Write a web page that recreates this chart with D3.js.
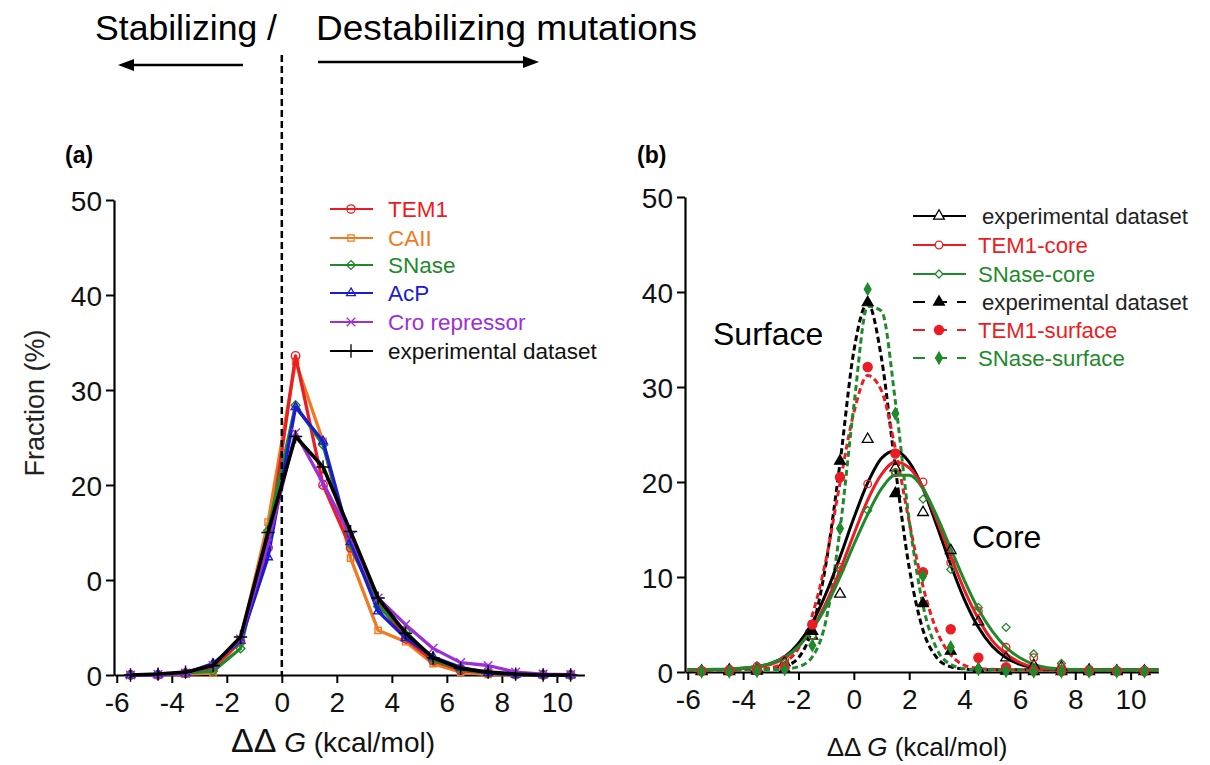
<!DOCTYPE html>
<html>
<head>
<meta charset="utf-8">
<script src="https://cdn.jsdelivr.net/npm/d3@7"></script>
<style>
  body { margin: 0; background: #fff; }
  svg { font-family: "Liberation Sans", Arial, Helvetica, sans-serif; }
</style>
</head>
<body>
<svg id="chart" width="1210" height="765"></svg>
<script>
// bin centres (kcal/mol) shared by both panels
const bins = [-5.5, -4.5, -3.5, -2.5, -1.5, -0.5, 0.5, 1.5, 2.5, 3.5, 4.5, 5.5, 6.5, 7.5, 8.5, 9.5, 10.5];

// panel (a): fraction (%) per bin
const aTEM1  = [0, 0, 0.2, 0.8, 3.5, 13.4, 33.6, 20.0, 13.4, 7.6, 3.8, 1.5, 0.5, 0.2, 0.05, 0, 0];
const aCAII  = [0, 0, 0.1, 0.2, 3.7, 16.1, 33.0, 24.6, 12.3, 4.7, 3.5, 1.2, 0.3, 0.05, 0, 0, 0];
const aSNase = [0, 0.05, 0.2, 0.4, 2.8, 15.2, 28.4, 24.2, 13.7, 7.2, 4.6, 1.6, 0.6, 0.2, 0.05, 0, 0];
const aAcP   = [0, 0.05, 0.2, 1.2, 3.6, 12.4, 28.2, 24.6, 14.0, 6.7, 3.9, 1.9, 0.8, 0.2, 0.05, 0, 0];
const aCro   = [0, 0.05, 0.2, 1.0, 3.8, 13.9, 25.5, 20.2, 14.6, 8.1, 5.3, 2.8, 1.3, 1.0, 0.3, 0.1, 0.05];
const aExp   = [0, 0.1, 0.3, 1.0, 4.0, 15.0, 25.1, 21.9, 15.1, 8.1, 4.4, 1.8, 0.7, 0.3, 0.1, 0, 0];

// panel (b): measured points per bin
const bExpCore   = [0.1, 0.2, 0.4, 1.0, 3.8, 8.2, 24.5, 21.5, 16.8, 12.8, 5.3, 1.5, 0.7, 0.5, 0.2, 0.1, 0.1];
const bTEM1Core  = [0.1, 0.3, 0.6, 1.3, 3.8, 11.0, 19.8, 21.0, 20.0, 11.5, 6.4, 2.6, 1.5, 0.5, 0.3, 0.1, 0.1];
const bSNaseCore = [0.1, 0.2, 0.5, 1.0, 3.8, 10.7, 17.0, 21.0, 18.2, 10.8, 6.8, 4.7, 1.9, 0.9, 0.3, 0.1, 0.1];
const bExpSurf   = [0.05, 0.05, 0.1, 0.3, 4.3, 22.2, 38.9, 18.8, 7.2, 2.2, 0.3, 0.1, 0.05, 0.05, 0.05, 0.05, 0.05];
const bTEM1Surf  = [0.1, 0.1, 0.2, 0.5, 5.0, 20.5, 32.1, 23.0, 10.5, 4.5, 1.5, 0.5, 0.2, 0.1, 0.1, 0.1, 0.1];
const bSNaseSurf = [0.05, 0.05, 0.1, 0.3, 2.8, 15.1, 40.3, 27.2, 10.1, 2.6, 0.3, 0.1, 0.05, 0.05, 0.05, 0.05, 0.05];

// panel (b): fitted curves, every 0.5 kcal/mol
const fitX = [-6, -5.5, -5, -4.5, -4, -3.5, -3, -2.5, -2, -1.5, -1, -0.5, 0, 0.5, 1, 1.5, 2, 2.5, 3, 3.5,
              4, 4.5, 5, 5.5, 6, 6.5, 7, 7.5, 8, 8.5, 9, 9.5, 10, 10.5, 11];
const fitExpCore   = [0.25, 0.25, 0.27, 0.3, 0.4, 0.55, 0.9, 1.6, 3.0, 5.2, 8.3, 12.1, 16.2, 19.9, 22.5, 23.3, 22.1, 19.3, 15.4, 11.3,
                      7.6, 4.7, 2.7, 1.5, 0.8, 0.45, 0.3, 0.25, 0.25, 0.25, 0.25, 0.25, 0.25, 0.25, 0.25];
const fitTEM1Core  = [0.25, 0.25, 0.27, 0.3, 0.38, 0.5, 0.8, 1.45, 2.65, 4.6, 7.3, 10.7, 14.5, 18.1, 20.8, 22.1, 21.5, 19.4, 16.0, 12.2,
                      8.6, 5.6, 3.3, 1.9, 1.0, 0.5, 0.32, 0.27, 0.25, 0.25, 0.25, 0.25, 0.25, 0.25, 0.25];
const fitSNaseCore = [0.25, 0.26, 0.28, 0.32, 0.42, 0.6, 0.9, 1.55, 2.7, 4.5, 6.9, 10.0, 13.4, 16.6, 19.3, 20.7, 20.7, 19.3, 16.4, 13.0,
                      9.6, 6.6, 4.3, 2.6, 1.5, 0.8, 0.45, 0.32, 0.27, 0.25, 0.25, 0.25, 0.25, 0.25, 0.25];
const fitExpSurf   = [0.25, 0.25, 0.25, 0.25, 0.25, 0.27, 0.35, 0.6, 1.5, 4.6, 11.5, 22.0, 33.8, 38.8, 33.0, 21.5, 11.0, 4.4, 1.5, 0.55,
                      0.32, 0.25, 0.25, 0.25, 0.25, 0.25, 0.25, 0.25, 0.25, 0.25, 0.25, 0.25, 0.25, 0.25, 0.25];
const fitTEM1Surf  = [0.25, 0.25, 0.25, 0.25, 0.25, 0.3, 0.45, 1.0, 2.5, 6.0, 11.9, 19.9, 27.3, 31.2, 29.6, 23.5, 15.8, 9.0, 4.3, 1.8,
                      0.7, 0.38, 0.28, 0.25, 0.25, 0.25, 0.25, 0.25, 0.25, 0.25, 0.25, 0.25, 0.25, 0.25, 0.25];
const fitSNaseSurf = [0.25, 0.25, 0.25, 0.25, 0.25, 0.25, 0.25, 0.3, 0.55, 1.6, 5.5, 15.0, 28.0, 38.5, 38.0, 28.5, 16.0, 7.0, 2.4, 0.8,
                      0.35, 0.26, 0.25, 0.25, 0.25, 0.25, 0.25, 0.25, 0.25, 0.25, 0.25, 0.25, 0.25, 0.25, 0.25];

// ticks
const xTicks = [-6, -4, -2, 0, 2, 4, 6, 8, 10];
const yTicks = [0, 10, 20, 30, 40, 50];
const yTickLabelsA = ["0", "0", "20", "30", "40", "50"];   // the "1" of 10 is cut off in panel (a)
const yTickLabelsB = ["0", "10", "20", "30", "40", "50"];

const RED = "#ec1c24", ORANGE = "#f07a22", GREEN = "#1f8a2c", BLUE = "#1b1bd0", PURPLE = "#9b30d8";

const svg = d3.select("#chart");

// ---------- header: stabilizing / destabilizing ----------
svg.append("text").attr("x", 95).attr("y", 40).attr("font-size", 35)
    .attr("textLength", 182).attr("lengthAdjust", "spacingAndGlyphs").text("Stabilizing /");
svg.append("text").attr("x", 316).attr("y", 40).attr("font-size", 35)
    .attr("textLength", 381).attr("lengthAdjust", "spacingAndGlyphs").text("Destabilizing mutations");

function arrow(x1, x2, y) {
    let dir = Math.sign(x2 - x1);
    svg.append("line").attr("x1", x1).attr("x2", x2 - dir * 12).attr("y1", y).attr("y2", y)
        .attr("stroke", "#000").attr("stroke-width", 2.5);
    svg.append("path")
        .attr("d", `M${x2},${y} L${x2 - dir * 16},${y - 6} L${x2 - dir * 16},${y + 6} Z`)
        .attr("fill", "#000");
}
arrow(243, 118, 65);
arrow(318, 539, 62);

// ---------- generic panel ----------
function panel(opts) {
    let x = d3.scaleLinear().domain([-6.1, 11]).range(opts.xRange);
    let y = d3.scaleLinear().domain([0, 50]).range(opts.yRange);
    let g = svg.append("g");

    let xAxis = g.append("g")
        .attr("transform", "translate(0," + opts.yRange[0] + ")")
        .call(d3.axisBottom(x).tickValues(xTicks).tickFormat(d3.format("d")).tickSize(8).tickSizeOuter(0).tickPadding(6));
    let yAxis = g.append("g")
        .attr("transform", "translate(" + opts.xRange[0] + ",0)")
        .call(d3.axisLeft(y).tickValues(yTicks).tickFormat((d, i) => opts.yLabels[i]).tickSize(8).tickSizeOuter(0).tickPadding(4));

    [xAxis, yAxis].forEach(a => {
        a.select(".domain").attr("stroke-width", 2.2);
        a.selectAll(".tick line").attr("stroke-width", 2);
        a.selectAll("text").attr("font-size", 28).attr("font-family", "Liberation Sans, Arial, sans-serif").attr("fill", "#111");
    });
    xAxis.selectAll("text").attr("dy", "0.82em").text(d => d < 0 ? "-" + Math.abs(d) : d);
    yAxis.selectAll("text").attr("dy", "0.36em");
    return {x, y, g};
}

function drawMarkers(g, x, y, values, symbolType, size, color, filled, sw) {
    g.append("g").selectAll("path")
        .data(values.map((v, i) => [bins[i], v]))
        .enter().append("path")
        .attr("transform", d => "translate(" + x(d[0]) + "," + y(d[1]) + ")")
        .attr("d", d3.symbol().type(symbolType).size(size))
        .attr("fill", filled ? color : "none")
        .attr("stroke", color)
        .attr("stroke-width", sw || 1.2);
}

// ---------- panel (a) ----------
const A = panel({xRange: [114, 584.4], yRange: [675, 200], yLabels: yTickLabelsA});

const seriesA = [
    {name: "CAII",             values: aCAII,  color: ORANGE, text: ORANGE,    symbol: d3.symbolSquare2,   size: 50},
    {name: "TEM1",             values: aTEM1,  color: RED,    text: RED,       symbol: d3.symbolCircle,    size: 55},
    {name: "SNase",            values: aSNase, color: GREEN,  text: GREEN,     symbol: d3.symbolDiamond2,  size: 50},
    {name: "AcP",              values: aAcP,   color: BLUE,   text: BLUE,      symbol: d3.symbolTriangle2, size: 55},
    {name: "Cro repressor",    values: aCro,   color: PURPLE, text: PURPLE,    symbol: d3.symbolTimes,     size: 50},
    {name: "experimental dataset", values: aExp, color: "#000", text: "#111", symbol: d3.symbolPlus,      size: 60}
];

let lineA = d3.line().x((d, i) => A.x(bins[i])).y(d => A.y(d));
seriesA.forEach(s => {
    A.g.append("path").datum(s.values)
        .attr("d", lineA).attr("fill", "none")
        .attr("stroke", s.color).attr("stroke-width", s.name === "experimental dataset" ? 3.6 : 3.3)
        .attr("stroke-linejoin", "round");
    drawMarkers(A.g, A.x, A.y, s.values, s.symbol, s.size, s.color, false, 1.4);
});

// legend (a)
const legendOrderA = ["TEM1", "CAII", "SNase", "AcP", "Cro repressor", "experimental dataset"];
const legendYA = [209, 238, 265, 293, 322, 351];
legendOrderA.forEach((name, i) => {
    let s = seriesA.find(d => d.name === name);
    let ly = legendYA[i];
    svg.append("line").attr("x1", 330).attr("x2", 373).attr("y1", ly).attr("y2", ly)
        .attr("stroke", s.color).attr("stroke-width", 2);
    svg.append("path").attr("transform", "translate(351," + ly + ")")
        .attr("d", d3.symbol().type(s.symbol).size(s.size))
        .attr("fill", "none").attr("stroke", s.color).attr("stroke-width", 1.3);
    svg.append("text").attr("x", 388).attr("y", ly + 8).attr("font-size", 22.5)
        .attr("fill", s.text).text(name);
});

// dashed zero line across the header
svg.append("line").attr("x1", A.x(0)).attr("x2", A.x(0)).attr("y1", 55).attr("y2", 675)
    .attr("stroke", "#000").attr("stroke-width", 2.5).attr("stroke-dasharray", "7,4");

// labels (a)
svg.append("text").attr("x", 65).attr("y", 163).attr("font-size", 23).attr("font-weight", "bold").text("(a)");
svg.append("text").attr("transform", "translate(44,403) rotate(-90)").attr("text-anchor", "middle")
    .attr("font-size", 27).attr("fill", "#222").text("Fraction (%)");
let xtA = svg.append("text").attr("x", 333).attr("y", 752).attr("text-anchor", "middle").attr("font-size", 28).attr("fill", "#111");
xtA.append("tspan").attr("font-size", 34).text("ΔΔ");
xtA.append("tspan").text(" ");
xtA.append("tspan").attr("font-style", "italic").text("G");
xtA.append("tspan").text(" (kcal/mol)");

// ---------- panel (b) ----------
const B = panel({xRange: [685, 1158.3], yRange: [672, 197], yLabels: yTickLabelsB});

let fitLine = d3.line().curve(d3.curveMonotoneX).x((d, i) => B.x(fitX[i])).y(d => B.y(d));
const fitsB = [
    {values: fitExpSurf,   color: "#000", dashed: true},
    {values: fitTEM1Surf,  color: RED,    dashed: true},
    {values: fitSNaseSurf, color: GREEN,  dashed: true},
    {values: fitExpCore,   color: "#000", dashed: false},
    {values: fitTEM1Core,  color: RED,    dashed: false},
    {values: fitSNaseCore, color: GREEN,  dashed: false}
];
fitsB.forEach(f => {
    B.g.append("path").datum(f.values).attr("d", fitLine)
        .attr("fill", "none").attr("stroke", f.color).attr("stroke-width", 3)
        .attr("stroke-dasharray", f.dashed ? "6,3.5" : null);
});

const pointsB = [
    {name: "experimental dataset", values: bExpCore,   color: "#000", symbol: d3.symbolTriangle, filled: false, size: 50, dashed: false, text: "#222"},
    {name: "TEM1-core",            values: bTEM1Core,  color: RED,    symbol: d3.symbolCircle,   filled: false, size: 45, dashed: false, text: RED},
    {name: "SNase-core",           values: bSNaseCore, color: GREEN,  symbol: d3.symbolDiamond2, filled: false, size: 40, dashed: false, text: GREEN},
    {name: "experimental dataset", values: bExpSurf,   color: "#000", symbol: d3.symbolTriangle, filled: true,  size: 50, dashed: true,  text: "#222"},
    {name: "TEM1-surface",         values: bTEM1Surf,  color: RED,    symbol: d3.symbolCircle,   filled: true,  size: 65, dashed: true,  text: RED},
    {name: "SNase-surface",        values: bSNaseSurf, color: GREEN,  symbol: d3.symbolDiamond,  filled: true,  size: 40, dashed: true,  text: GREEN}
];
pointsB.forEach(p => drawMarkers(B.g, B.x, B.y, p.values, p.symbol, p.size, p.color, p.filled, 1.3));

// legend (b)
const legendYB = [216, 245, 274, 302, 330, 358];
pointsB.forEach((p, i) => {
    let ly = legendYB[i];
    svg.append("line").attr("x1", 913).attr("x2", 966).attr("y1", ly).attr("y2", ly)
        .attr("stroke", p.color).attr("stroke-width", 2)
        .attr("stroke-dasharray", p.dashed ? "12,10" : null);
    svg.append("path").attr("transform", "translate(939," + ly + ")")
        .attr("d", d3.symbol().type(p.symbol).size(p.size))
        .attr("fill", p.filled ? p.color : "#fff").attr("stroke", p.color).attr("stroke-width", 1.3);
    svg.append("text").attr("x", p.name === "experimental dataset" ? 982 : 978).attr("y", ly + 8)
        .attr("font-size", 22.2).attr("fill", p.text).text(p.name);
});

// labels (b)
svg.append("text").attr("x", 637).attr("y", 163).attr("font-size", 23).attr("font-weight", "bold").text("(b)");
svg.append("text").attr("x", 713).attr("y", 345).attr("font-size", 32).text("Surface");
svg.append("text").attr("x", 972).attr("y", 548).attr("font-size", 32).text("Core");
let xtB = svg.append("text").attr("x", 917).attr("y", 756).attr("text-anchor", "middle").attr("font-size", 26).attr("fill", "#111");
xtB.append("tspan").text("ΔΔ ");
xtB.append("tspan").attr("font-style", "italic").text("G");
xtB.append("tspan").text(" (kcal/mol)");
</script>
</body>
</html>
